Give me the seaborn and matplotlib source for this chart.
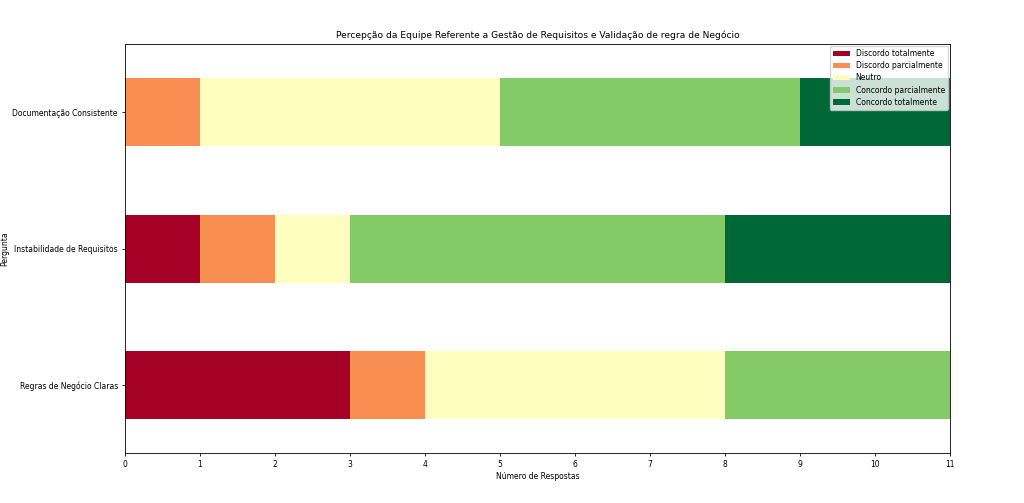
import pandas as pd
import numpy as np
import matplotlib.pyplot as plt
import seaborn as sns

# Dados
perguntas = ['Regras de Negócio Claras', 'Instabilidade de Requisitos', 'Documentação Consistente']
discordo_totalmente = [3, 1, 0]
discordo_parcialmente = [1, 1, 1]
neutro = [4, 1, 4]
concordo_parcialmente = [3, 5, 4]
concordo_totalmente = [0, 3, 2]

df = pd.DataFrame({
    'Discordo totalmente': discordo_totalmente,
    'Discordo parcialmente': discordo_parcialmente,
    'Neutro': neutro,
    'Concordo parcialmente': concordo_parcialmente,
    'Concordo totalmente': concordo_totalmente,
}, index=perguntas)
df.index.name = 'Pergunta'

plt.rcParams['font.size'] = 5.5
plt.rcParams['font.family'] = ['DejaVu Sans']
plt.rcParams['xtick.major.size'] = 2.5
plt.rcParams['ytick.major.size'] = 2.5
plt.rcParams['xtick.major.pad'] = 2.5
plt.rcParams['ytick.major.pad'] = 2.5
plt.rcParams['axes.linewidth'] = 0.6
plt.rcParams['xtick.major.width'] = 0.6
plt.rcParams['ytick.major.width'] = 0.6

cmap = plt.get_cmap('RdYlGn')
cores = [cmap(v) for v in np.linspace(0, 1, 5)]

fig, ax = plt.subplots(figsize=(10.24, 5.03), dpi=100)
fig.subplots_adjust(left=0.122, right=0.928, top=0.9125, bottom=0.099)

# barras empilhadas: desenha do total para o começo
acumulado = df.cumsum(axis=1)
for i, (col, cor) in enumerate(zip(df.columns, cores)):
    sns.barplot(x=acumulado[col].values, y=df.index, orient='h', color=cor,
                saturation=1, ax=ax, width=0.5, label=col, zorder=-i,
                order=perguntas[::-1])

ax.set_xlim(0, 11)
ax.set_xticks(range(0, 12))
ax.set_ylim(2.5, -0.5)
ax.set_title('Percepção da Equipe Referente a Gestão de Requisitos e Validação de regra de Negócio',
             fontsize=6.6, pad=4)
ax.set_xlabel('Número de Respostas', labelpad=2)
ax.set_ylabel('Pergunta')
ax.yaxis.set_label_coords(-0.14, 0.5)
ax.legend(loc='upper right', fontsize=5.5, labelspacing=0.4, handlelength=2.2,
          borderaxespad=0.3)

fig.savefig('out.png', dpi=100)
